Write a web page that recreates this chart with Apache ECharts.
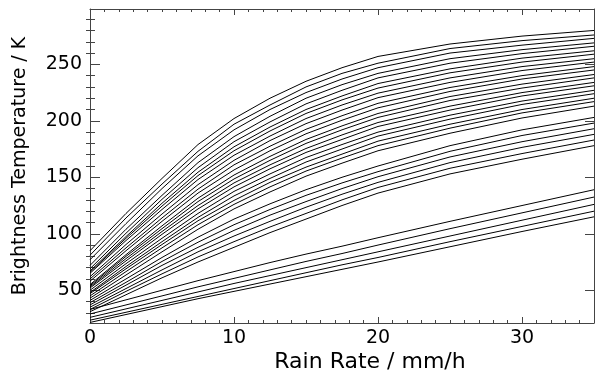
<!DOCTYPE html>
<html>
<head>
<meta charset="utf-8">
<script src="https://cdn.jsdelivr.net/npm/echarts@6/dist/echarts.min.js"></script>
<style>html,body{margin:0;padding:0;background:#fff}#c{width:605px;height:384px}</style>
</head>
<body>
<div id="c"></div>
<script>
// Rain rate sample points (mm/h)
const rainRate = [0, 2.5, 5, 7.5, 10, 12.5, 15, 17.5, 20, 25, 30, 35];

// Brightness temperature curves (K)
// Upper band (20 curves)
const upperBand = [
  [85,118,149,179,202,220,235,247,257,268,275,280],
  [81,114,144,173,197,214,230,242,251,264,271,276],
  [77,109,140,169,192,210,225,237,247,260,267,273],
  [72,104,134,163,186,204,220,232,242,255,263,269],
  [69,100.5,130.5,158.5,181.5,199,215,227,238,251,259.5,266],
  [67,97.5,127,154.5,177,194.5,210,222,233,246,255.5,262],
  [66,96,124.5,151.5,173.5,191,206.5,218.5,229,242.5,252,259],
  [65,94,121.5,148,169.5,186.5,202,214,224.5,238,248,255],
  [62,90.5,117.5,143.5,165,182.5,197.5,209.5,220.5,234,244.5,252],
  [60,87.5,114,139.5,161,177.5,192.5,204.5,215.5,229.5,240,248],
  [58,85,111,136,156.5,173.5,188.5,200.5,211.5,226,237,245],
  [55,81.5,107,131.5,152,168.5,183.5,195.5,206.5,221.5,232.5,241],
  [54,80,104.5,128.5,148.5,165,180,192,203,218,229,238],
  [53,78,102,125,145,161,175.5,187.5,198.5,213,225,234],
  [52,76,99.5,122,141.5,157.5,172,183.5,195,209.5,222,231],
  [50,73.5,96,118,137.5,153,167.5,179,190,205,217.5,227],
  [48,71,93,114.5,133.5,149,163.5,175,186.5,201.5,214.5,224],
  [47,69,90.5,111.5,129.5,145.5,159,170.5,182,197,210,220],
  [45,66.5,87.5,108,126,141.5,155.5,167,178,193.5,207,217],
  [43,63.5,84,104,122,137,151,162.5,173.5,189,202.5,213]
];
// Middle band (6 curves)
const middleBand = [
  [41,60,79,97,113,126.5,139,150,160,178,192,203],
  [39,57,75.5,92.5,108,121.5,134,145,155,173,187,198],
  [37,54.5,72,88,103,116.5,128.5,140,150.5,168,181.5,193],
  [35,51.5,68,84,98,111,123.5,135,145.5,163,176.5,188],
  [33,49,64.5,79.5,93,106,118,130,141,158,171,183],
  [31,46,61,75,88,101,113,125,136,153,166,178]
];
// Lower band (5 curves)
const lowerBand = [
  [33,41.5,50,58.5,66.5,74.5,82,89,96.5,111,125,139],
  [29,37,45,53,60.5,68,75.5,82.5,90,104.5,118.5,132.5],
  [26,33.5,41,48.5,56,63,70,77,84,98,112,126],
  [23.5,30.5,37.5,44.5,51.5,58.5,65.5,72.5,79,93,106.5,120],
  [21.5,28.5,35.5,42.5,49,55.5,62,68.5,75,88.5,102,115]
];

// Axis ticks
const xMajor = [0, 10, 20, 30];
const xMinor = [1,2,3,4,5,6,7,8,9,11,12,13,14,15,16,17,18,19,21,22,23,24,25,26,27,28,29,31,32,33,34];
const yMajor = [50, 100, 150, 200, 250];
const yMinor = [30,40,60,70,80,90,110,120,130,140,160,170,180,190,210,220,230,240,260,270,280,290];

const xTitle = 'Rain Rate / mm/h';
const yTitle = 'Brightness Temperature / K';

const X_MIN = 0, X_MAX = 35, Y_MIN = 21, Y_MAX = 299;
const FONT = 'DejaVu Sans';
const frameColor = '#444';

function mkX(pos, ticks, len, opts) {
  return Object.assign({
    type: 'value', position: pos, min: X_MIN, max: X_MAX,
    axisLine: { show: false },
    axisTick: { show: true, inside: true, length: len, customValues: ticks, lineStyle: { color: frameColor, width: 1 } },
    axisLabel: { show: false },
    splitLine: { show: false }
  }, opts || {});
}
function mkY(pos, ticks, len, opts) {
  return Object.assign({
    type: 'value', position: pos, min: Y_MIN, max: Y_MAX,
    axisLine: { show: false },
    axisTick: { show: true, inside: true, length: len, customValues: ticks, lineStyle: { color: frameColor, width: 1 } },
    axisLabel: { show: false },
    splitLine: { show: false }
  }, opts || {});
}

const xAxes = [
  mkX('bottom', xMajor, 6, {
    axisLine: { show: true, onZero: false, lineStyle: { color: frameColor, width: 1 } },
    axisLabel: { show: true, customValues: xMajor, color: '#000', fontFamily: FONT, fontSize: 19, margin: 6 }
  }),
  mkX('bottom', xMinor, 3),
  mkX('top', xMajor, 6, { axisLine: { show: true, onZero: false, lineStyle: { color: frameColor, width: 1 } } }),
  mkX('top', xMinor, 3)
];
const yAxes = [
  mkY('left', yMajor, 10, {
    axisLine: { show: true, onZero: false, lineStyle: { color: frameColor, width: 1 } },
    axisLabel: { show: true, customValues: yMajor, color: '#000', fontFamily: FONT, fontSize: 19, margin: 8 }
  }),
  mkY('left', yMinor, 5),
  mkY('right', yMajor, 9, { axisLine: { show: true, onZero: false, lineStyle: { color: frameColor, width: 1 } } }),
  mkY('right', yMinor, 4)
];

const series = [];
[upperBand, middleBand, lowerBand].forEach(function (grp) {
  grp.forEach(function (vals) {
    series.push({
      type: 'line',
      data: rainRate.map(function (r, i) { return [r, vals[i]]; }),
      showSymbol: false,
      lineStyle: { color: '#000', width: 1 },
      silent: true,
      animation: false
    });
  });
});

const chart = echarts.init(document.getElementById('c'), null, { renderer: 'canvas' });
chart.setOption({
  animation: false,
  backgroundColor: '#fff',
  grid: { left: 90, right: 11, top: 9, bottom: 61, containLabel: false },
  xAxis: xAxes,
  yAxis: yAxes,
  series: series,
  graphic: [
    { type: 'text', x: 370, y: 362,
      style: { text: xTitle, fill: '#000', font: '22px "DejaVu Sans"', align: 'center', verticalAlign: 'middle' } },
    { type: 'text', x: 20, y: 166, rotation: Math.PI / 2,
      style: { text: yTitle, fill: '#000', font: '19px "DejaVu Sans"', align: 'center', verticalAlign: 'middle' } }
  ]
});
</script>
</body>
</html>
